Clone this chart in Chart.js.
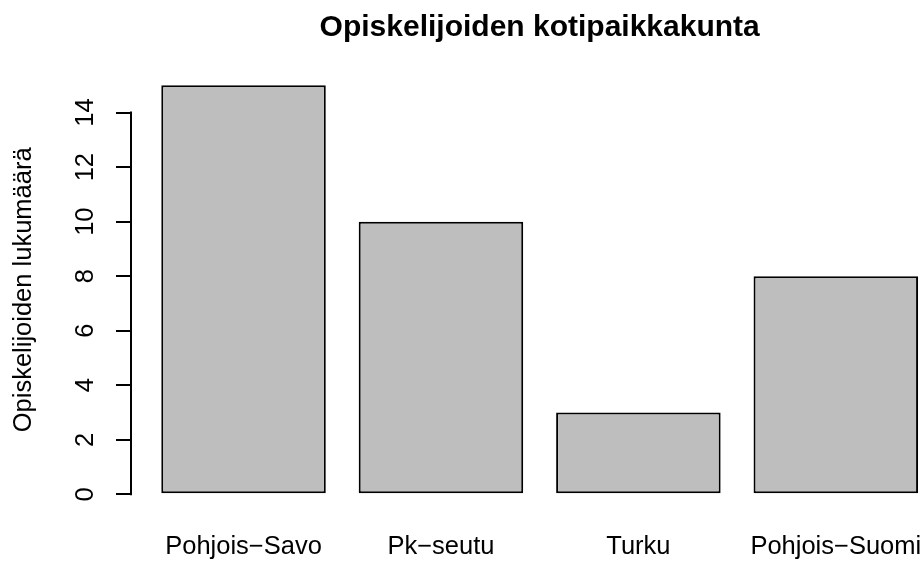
<!DOCTYPE html>
<html><head><meta charset="utf-8">
<script src="https://cdn.jsdelivr.net/npm/chart.js@4/dist/chart.umd.min.js"></script>
<style>html,body{margin:0;padding:0;background:#fff;overflow:hidden}canvas{display:block}</style>
</head><body>
<canvas id="c" width="923" height="563"></canvas>
<script>
// ---- data ----
const categories = ["Pohjois\u2212Savo", "Pk\u2212seutu", "Turku", "Pohjois\u2212Suomi"];
const counts = [15, 10, 3, 8];
const yTicks = [0, 2, 4, 6, 8, 10, 12, 14];
const titleText = "Opiskelijoiden kotipaikkakunta";
const yAxisTitle = "Opiskelijoiden lukumäärä";

// R barplot geometry (bar width 1, space 0.2, axes extended by 4%)
const barWidth = 1, barSpace = 0.2;
const barCenters = categories.map((_, i) => barSpace + i * (barWidth + barSpace) + barWidth / 2);
const xLo = barSpace, xHi = categories.length * (barWidth + barSpace);
const xPad = 0.04 * (xHi - xLo);
const yLo = 0, yHi = Math.max(...counts);
const yPad = 0.04 * (yHi - yLo);
const xViewMax = 4.83; // reference image crops the plot region at the right edge

const FONT = "'Liberation Sans', Arial, Helvetica, sans-serif";

const rExtras = {
  id: 'rExtras',
  afterDraw(chart) {
    const {ctx, chartArea, scales: {x, y}} = chart;
    ctx.save();
    ctx.strokeStyle = '#000';
    ctx.lineWidth = 2;
    ctx.beginPath();
    ctx.moveTo(chartArea.left, y.getPixelForValue(yTicks[0]) + 1);
    ctx.lineTo(chartArea.left, y.getPixelForValue(yTicks[yTicks.length - 1]) - 1);
    ctx.stroke();
    ctx.fillStyle = '#000';
    ctx.font = "bold 30px " + FONT;
    ctx.textAlign = 'center';
    ctx.textBaseline = 'alphabetic';
    const cx = (x.getPixelForValue(xLo - xPad) + x.getPixelForValue(xHi + xPad)) / 2;
    ctx.fillText(titleText, cx, 36);
    ctx.restore();
  }
};

new Chart(document.getElementById('c'), {
  type: 'bar',
  data: {
    datasets: [{
      data: counts.map((v, i) => ({x: barCenters[i], y: v})),
      backgroundColor: '#bebebe',
      borderColor: '#000',
      borderWidth: 2,
      borderSkipped: false,
      categoryPercentage: 1,
      barPercentage: barWidth / (barWidth + barSpace)
    }]
  },
  options: {
    responsive: false,
    animation: false,
    devicePixelRatio: 1,
    layout: {padding: {top: 69, left: 0, right: 0, bottom: 0}},
    plugins: {legend: {display: false}, tooltip: {enabled: false}, title: {display: false}},
    scales: {
      x: {
        type: 'linear',
        offset: false,
        min: xLo - xPad,
        max: xViewMax,
        grid: {display: false, drawTicks: false, offset: false},
        border: {display: false},
        afterBuildTicks: s => { s.ticks = barCenters.map(v => ({value: v})); },
        ticks: {
          callback: (v, i) => categories[i],
          color: '#000',
          font: {family: FONT, size: 25.5},
          padding: 21,
          maxRotation: 0,
          autoSkip: false
        },
        afterFit: s => { s.height = 52.3; s.paddingLeft = 0; s.paddingRight = 0; }
      },
      y: {
        min: yLo - yPad,
        max: yHi + yPad,
        grid: {drawOnChartArea: false, drawTicks: true, tickLength: 15, color: '#000', lineWidth: 2},
        border: {display: false},
        afterBuildTicks: s => { s.ticks = yTicks.map(v => ({value: v})); },
        ticks: {
          color: '#000',
          font: {family: FONT, size: 25.5},
          minRotation: 90,
          maxRotation: 90,
          crossAlign: 'center',
          padding: 16,
          autoSkip: false
        },
        title: {display: true, text: yAxisTitle, color: '#000', font: {family: FONT, size: 25.5}, padding: {top: 9, bottom: 0}},
        afterFit: s => { s.width = 131; s.paddingTop = 0; s.paddingBottom = 0; }
      }
    }
  },
  plugins: [rExtras]
});
</script>
</body></html>
